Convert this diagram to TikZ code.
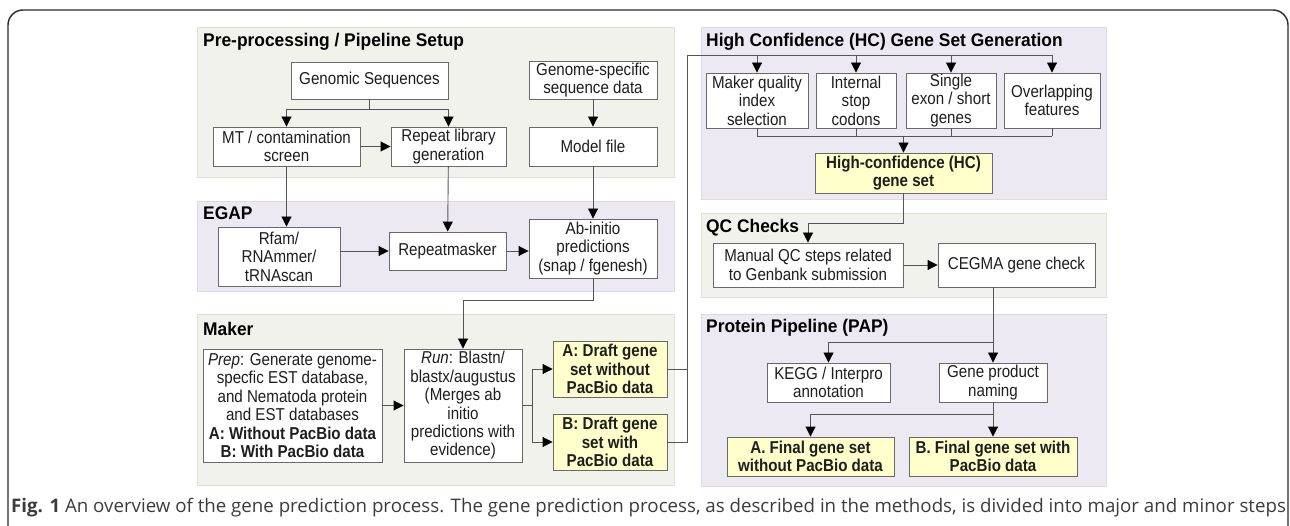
\documentclass[tikz,border=0pt]{standalone}
\usepackage{fontspec}
\usetikzlibrary{arrows.meta}
\newfontfamily\diafont{Liberation Sans}[FakeStretch=0.88]
\newfontfamily\ttlfont{Liberation Sans}[FakeStretch=0.95]
\newfontfamily\capfont{Open Sans}
\definecolor{greenp}{RGB}{240,242,235}
\definecolor{greenb}{RGB}{220,224,214}
\definecolor{purplep}{RGB}{237,233,243}
\definecolor{purpleb}{RGB}{221,216,230}
\definecolor{hcyel}{RGB}{255,255,204}
\definecolor{boxgray}{RGB}{105,105,105}
\definecolor{linegray}{RGB}{85,85,85}
\definecolor{txt}{RGB}{30,30,30}
\definecolor{captxt}{RGB}{60,60,60}
\definecolor{framec}{RGB}{40,40,40}

\begin{document}
\begin{tikzpicture}[x=1pt,y=-1pt,
  box/.style={draw=boxgray, fill=white, line width=.9pt, inner sep=0pt, align=center,
    text=txt, font=\diafont\fontsize{17.2}{18.4}\selectfont},
  hcbox/.style={box, fill=hcyel, font=\diafont\bfseries\fontsize{17.2}{18.4}\selectfont},
  sz/.style 2 args={minimum width=#1pt, minimum height=#2pt},
  ttl/.style={anchor=west, inner sep=0pt, text=black,
    font=\ttlfont\bfseries\fontsize{18.3}{20}\selectfont},
  link/.style={draw=linegray, line width=.9pt},
  arr/.style={link, -{Triangle[length=10pt,width=10pt,color=black]}}]
\useasboundingbox (0,0) rectangle (1290,526);
\draw[framec, line width=1.4pt, rounded corners=15pt] (8,540) -- (8,10) -- (1288,10) -- (1288,540);

% Pre-processing / Pipeline Setup
\fill[greenp, draw=greenb] (197,27) rectangle (674,177);
\node[ttl] at (203,42) {Pre-processing / Pipeline Setup};
\node[box, sz={157}{37}] (gs) at (369.5,80.5) {Genomic Sequences};
\node[box, sz={128}{38}] (gsd) at (593,80) {Genome-specific\\sequence data};
\node[box, sz={147}{39}] (mt) at (286.5,146.5) {MT / contamination\\screen};
\node[box, sz={115}{39}] (rl) at (448.5,146.5) {Repeat library\\generation};
\node[box, sz={128}{39}] (mf) at (593,146.5) {Model file};

% EGAP
\fill[purplep, draw=purpleb] (197,201) rectangle (674,291);
\node[ttl] at (203,213) {EGAP};
\node[box, sz={122}{59}] (rfam) at (279,256.5) {Rfam/\\RNAmmer/\\tRNAscan};
\node[box, sz={117}{38}] (rm) at (447.5,251) {Repeatmasker};
\node[box, sz={128}{59}] (ab) at (593,248.5) {Ab-initio\\predictions\\(snap / fgenesh)};

% Maker
\fill[greenp, draw=greenb] (197,314) rectangle (674,485);
\node[ttl] at (203,329) {Maker};
\node[box, sz={179}{113}] (prep) at (292.5,405.5) {{\itshape Prep}: Generate genome-\\specfic EST database,\\and Nematoda protein\\and EST databases\\\textbf{A: Without PacBio data}\\\textbf{B: With PacBio data}};
\node[box, sz={118}{113}] (run) at (463,405.5) {{\itshape Run}: Blastn/\\blastx/augustus\\(Merges ab\\initio\\predictions with\\evidence)};
\node[hcbox, sz={114}{56}] (da) at (610,369) {A: Draft gene\\set without\\PacBio data};
\node[hcbox, sz={114}{56}] (db) at (610,442) {B: Draft gene\\set with\\PacBio data};

% High Confidence (HC) Gene Set Generation
\fill[purplep, draw=purpleb] (701,27) rectangle (1106,199);
\node[ttl] at (706,42) {High Confidence (HC) Gene Set Generation};
\node[box, sz={102}{55}] (mq) at (757,100.5) {Maker quality\\index\\selection};
\node[box, sz={80}{55}] (is) at (856,100.5) {Internal\\stop\\codons};
\node[box, sz={90}{55}] (se) at (951,100.5) {Single\\exon / short\\genes};
\node[box, sz={96}{55}] (of) at (1052,100.5) {Overlapping\\features};
\node[hcbox, sz={177}{40}] (hcs) at (903.5,173) {High-confidence (HC)\\gene set};

% QC Checks
\fill[greenp, draw=greenb] (701,213) rectangle (1106,297);
\node[ttl] at (706,228) {QC Checks};
\node[box, sz={190}{44}] (man) at (808,265) {Manual QC steps related\\to Genbank submission};
\node[box, sz={157}{44}] (ceg) at (1016.5,265) {CEGMA gene check};

% Protein Pipeline (PAP)
\fill[purplep, draw=purpleb] (701,314) rectangle (1106,486);
\node[ttl] at (706,328) {Protein Pipeline (PAP)};
\node[box, sz={123}{39}] (kegg) at (828.5,382.5) {KEGG / Interpro\\annotation};
\node[box, sz={108}{39}] (gpn) at (993,382.5) {Gene product\\naming};
\node[hcbox, sz={167}{39}] (fa) at (810.5,456.5) {A. Final gene set\\without PacBio data};
\node[hcbox, sz={168}{39}] (fb) at (993,456.5) {B. Final gene set with\\PacBio data};

% connectors
\draw[link] (gs.south) -- ++(0,10) coordinate (gsj);
\draw[arr] (gsj) -| (mt.north);
\draw[arr] (gsj) -| (rl.north);
\draw[arr] (mt) -- (rl);
\draw[arr] (gsd) -- (mf);
\draw[arr] (mt.south) -- (mt.south |- rfam.north);
\draw[arr] (rl) -- (rm);
\draw[arr] (mf) -- (ab);
\draw[arr] (rfam.east |- rm) -- (rm);
\draw[arr] (rm.east) -- (rm.east -| ab.west);
\draw[arr] (ab.south) -- ++(0,22) -| (run.north);
\draw[arr] (prep) -- (run);
\draw[link] (run.east) -- ++(10,0) coordinate (runj);
\draw[arr] (runj) |- (da.west);
\draw[arr] (runj) |- (db.west);
\coordinate (hcj) at (687,55);
\draw[link] (da.east) -| (hcj) -- (of.north |- hcj);
\draw[link] (db.east) -| (hcj);
\foreach \b in {mq,is,se,of} \draw[arr] (\b.north |- hcj) -- (\b.north);
\coordinate (hcm) at (0,136);
\foreach \b in {mq,is,se,of} \draw[link] (\b.south) -- (\b.south |- hcm);
\draw[link] (mq.south |- hcm) -- (of.south |- hcm);
\draw[arr] (hcs.north |- hcm) -- (hcs.north);
\draw[arr] (hcs.south) -- ++(0,30) -| (man.north);
\draw[arr] (man) -- (ceg);
\draw[arr] (gpn.north |- ceg.south) -- (gpn.north);
\draw[arr] (gpn.north |- 0,342) -| (kegg.north);
\draw[link] (gpn.south) -- ++(0,12) coordinate (gpj);
\draw[arr] (gpj) -| (fa.north);
\draw[arr] (gpj) -- (fb.north);

% caption
\node[anchor=west, inner sep=0pt, text=captxt, font=\capfont\fontsize{18.7}{20}\selectfont] (cap) at (11,508)
  {\textbf{Fig. 1} An overview of the gene prediction process. The gene prediction process, as described in the methods, is divided into major and minor steps};
\end{tikzpicture}
\end{document}
